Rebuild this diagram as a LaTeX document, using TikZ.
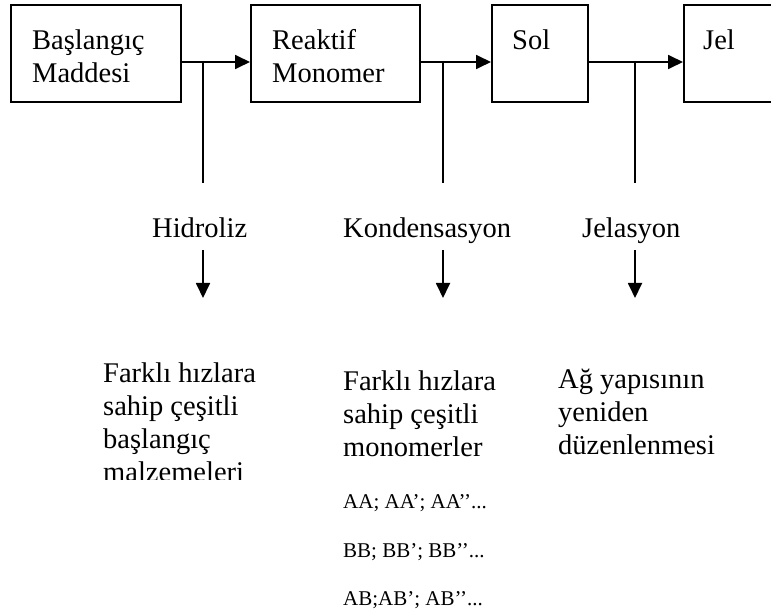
\documentclass[tikz,border=0pt]{standalone}
\usepackage{fontspec}
\setmainfont{Liberation Serif}
\usetikzlibrary{arrows.meta, positioning, calc}

\begin{document}
\begin{tikzpicture}[x=1pt, y=-1pt, >={Triangle[length=15pt, width=14pt]},
  box/.style={draw, line width=1.8pt, minimum height=97pt, anchor=north west, inner sep=0pt},
  big/.style={font=\fontsize{28.5}{33}\selectfont, align=left, anchor=base west, inner sep=0pt},
  small/.style={font=\fontsize{21}{24}\selectfont, anchor=base west, inner sep=0pt},
  flow/.style={line width=1.8pt}]
  \useasboundingbox (0,0) rectangle (771,612);
  \clip (0,0) rectangle (771,612);
  % the four stages (base anchor sits on the last line)
  \node[box, minimum width=170pt] (basla) at (10,4) {};
  \node[box, minimum width=169pt] (reakt) at (250,4) {};
  \node[box, minimum width=96pt] (sol) at (491,4) {};
  \node[box, minimum width=170pt] (jel) at (683,4) {};
  \node[big] (basla-t) at (32,83) {Başlangıç\\Maddesi};
  \node[big] (reakt-t) at (272,83) {Reaktif\\Monomer};
  \node[big] (sol-t) at (512,50) {Sol};
  \node[big] (jel-t) at (703,50) {Jel};
  \coordinate (lvl) at (0,62);
  \draw[flow,->] (basla.east |- lvl) -- (reakt.west |- lvl);
  \draw[flow,->] (reakt.east |- lvl) -- (sol.west |- lvl);
  \draw[flow,->] (sol.east |- lvl) -- (jel.west |- lvl);
  % the steps between them
  \foreach \x/\lx/\name/\lab in {203/152/hid/Hidroliz, 443/343/kon/Kondensasyon, 635/582/jela/Jelasyon} {
    \coordinate (\name-top) at (\x,62);
    \coordinate (\name-bot) at (\x,183);
    \draw[flow] (\name-top) -- (\name-bot);
    \node[big] (\name) at (\lx,238) {\lab};
    \coordinate (\name-from) at (\x,250);
    \coordinate (\name-tip) at (\x,298);
    \draw[flow,->] (\name-from) -- (\name-tip);
  }
  % results
  \begin{scope}
    \clip (0,0) rectangle (771,479);
    \node[big] (hid-r) at (103,481) {Farklı hızlara\\sahip çeşitli\\başlangıç\\malzemeleri};
  \end{scope}
  \node[big] (kon-r) at (343,456) {Farklı hızlara\\sahip çeşitli\\monomerler};
  \node[big] (jela-r) at (558,454) {Ağ yapısının\\yeniden\\düzenlenmesi};
  \node[small] (aa) at (343,508) {AA; AA’; AA’’...};
  \node[small] (bb) at (343,557) {BB; BB’; BB’’...};
  \node[small] (ab) at (343,605) {AB;AB’; AB’’...};
\end{tikzpicture}
\end{document}
